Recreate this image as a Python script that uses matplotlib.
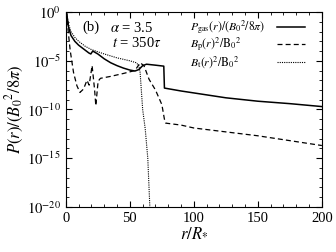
import numpy as np
import matplotlib
matplotlib.use("Agg")
import matplotlib.pyplot as plt
from matplotlib.ticker import MultipleLocator, FixedLocator, FixedFormatter, NullFormatter

plt.rcParams.update({"font.family": "Liberation Serif", "mathtext.fontset": "stix", "font.size": 9})

# P_gas(r)/(B0^2/8pi)  (log10 values)
r_gas = [0.5, 1, 2, 4, 7, 10, 14, 18, 19.5, 21, 25, 30, 35, 40, 45, 50, 54, 57, 60, 63, 70, 76.5,
         77, 90, 100, 125, 150, 175, 200]
lg_gas = [0, -0.5, -1.5, -2.4, -3.0, -3.4, -3.8, -4.2, -4.3, -4.0, -4.3, -4.8, -5.2, -5.5, -5.75,
          -5.95, -6.05, -5.9, -5.5, -5.35, -5.45, -5.55, -7.8, -8.1, -8.3, -8.8, -9.15, -9.4, -9.7]

# Bp(r)^2/B0^2
r_bp = [0.5, 1, 2, 3.4, 6, 8.6, 11, 13.8, 16.5, 18.2, 20.5, 22.4, 23.4, 25.2, 27, 35, 45, 54,
        58, 61, 65, 70, 75, 77, 78, 90, 100, 125, 150, 175, 200]
lg_bp = [0, -0.8, -2.2, -3.95, -6.2, -7.55, -8.25, -7.9, -7.0, -7.5, -5.5, -7.9, -9.6, -7.1,
         -6.8, -6.6, -6.3, -6.0, -5.2, -5.5, -6.9, -8.0, -9.5, -11.0, -11.4, -11.6, -11.9,
         -12.3, -12.7, -13.2, -13.7]

# Bt(r)^2/B0^2
r_bt = [0.5, 1, 2, 4, 7, 10, 15, 20, 30, 40, 50, 55, 57, 58, 60, 62, 64, 65.6]
lg_bt = [0, -0.4, -1.2, -2.0, -2.6, -3.0, -3.5, -3.85, -4.3, -4.7, -5.0, -5.2, -5.5, -6.2,
         -10.0, -12.0, -15.0, -20.0]

labels = [r"$P_{\rm gas}(r)/(B_0{}^2/8\pi)$",
          r"$B_{\rm p}(r)^2/{\rm B}_0{}^2$",
          r"$B_{\rm t}(r)^2/{\rm B}_0{}^2$"]
styles = [dict(lw=1.1, ls="-"), dict(lw=0.9, ls=(0, (4, 2.5))), dict(lw=0.8, ls=(0, (1, 1)))]

fig = plt.figure(figsize=(3.36, 2.52), dpi=100)
ax = fig.add_axes([0.196, 0.179, 0.762, 0.773])
for (rr, lg), st in zip([(r_gas, lg_gas), (r_bp, lg_bp), (r_bt, lg_bt)], styles):
    ax.plot(rr, 10.0 ** np.array(lg), color="black", **st)

ax.set_yscale("log")
ax.set_xlim(0, 200)
ax.set_ylim(1e-20, 1)
ax.xaxis.set_major_locator(MultipleLocator(50))
ax.xaxis.set_minor_locator(MultipleLocator(10))
ax.yaxis.set_major_locator(FixedLocator([10.0 ** k for k in range(-20, 1, 5)]))
ax.yaxis.set_major_formatter(FixedFormatter([r"$10^{%d}$" % k for k in range(-20, 1, 5)]))
ax.yaxis.set_minor_locator(FixedLocator([10.0 ** k for k in range(-20, 1)]))
ax.yaxis.set_minor_formatter(NullFormatter())
ax.tick_params(which="both", direction="in", top=True, right=True, labelsize=10.5)
ax.tick_params(which="major", length=4)
ax.tick_params(which="minor", length=2)

ax.set_xlabel(r"$r/R_{*}$", fontsize=12, labelpad=0)
ax.set_ylabel(r"$P(r)/(B_0{}^2/8\pi)$", fontsize=12, labelpad=1)

ax.text(0.066, 0.92, "(b)", fontsize=10.5, transform=ax.transAxes, va="center")
ax.text(0.172, 0.92, r"$\alpha$ = 3.5", fontsize=10.5, transform=ax.transAxes, va="center")
ax.text(0.18, 0.84, r"$t$ = 350$\tau$", fontsize=10.5, transform=ax.transAxes, va="center")

# legend: text on the left, line sample on the right
for i, (lab, st) in enumerate(zip(labels, styles)):
    yy = [0.925, 0.838, 0.746][i]
    ax.text(0.484, yy, lab, fontsize=8.5, transform=ax.transAxes, va="center")
    ax.plot([0.824, 0.934], [yy, yy], color="black", transform=ax.transAxes, **st)

fig.savefig("out.png", dpi=100)
